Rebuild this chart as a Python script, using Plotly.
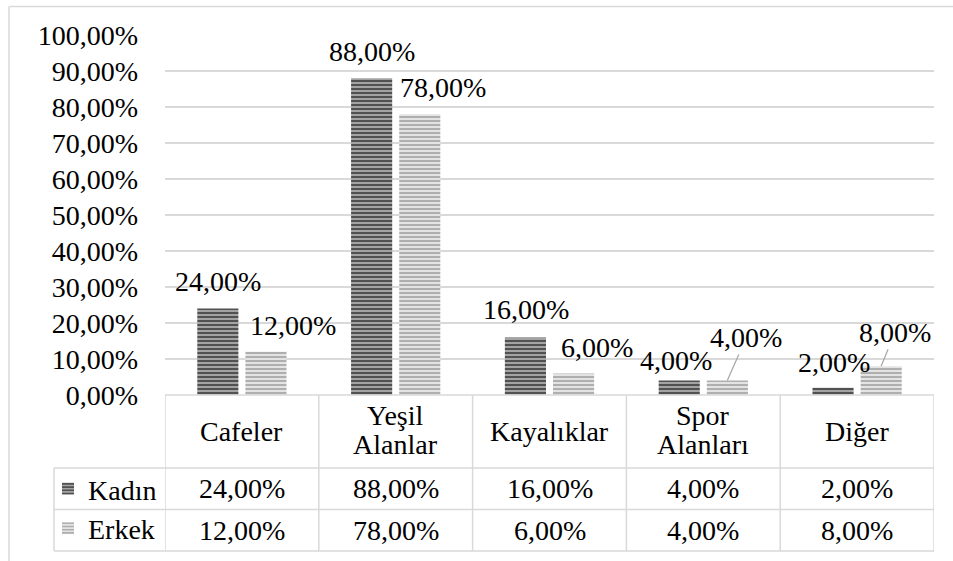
import plotly.graph_objects as go

# ---------------- data ----------------
categories = ["Cafeler", "Yeşil\nAlanlar", "Kayalıklar", "Spor\nAlanları", "Diğer"]
series_names = ["Kadın", "Erkek"]
kadin = [24, 88, 16, 4, 2]
erkek = [12, 78, 6, 4, 8]
y_ticks = [0, 10, 20, 30, 40, 50, 60, 70, 80, 90, 100]
y_tick_labels = ["0,00%", "10,00%", "20,00%", "30,00%", "40,00%", "50,00%",
                 "60,00%", "70,00%", "80,00%", "90,00%", "100,00%"]


def fmt(v):
    return f"{v:.2f}".replace(".", ",") + "%"


# ---------------- layout constants ----------------
W, H = 953, 561
L, R, T, B = 165, 19, 35, 166
PW, PH = W - L - R, H - T - B
FONT = "Liberation Serif, Times New Roman, serif"
FS = 28
GRID = "#d9d9d9"


def px_x(px):
    return (px - L) / PW


def px_y(py):
    return (H - B - py) / PH


x_idx = list(range(len(categories)))

fig = go.Figure()
fig.add_trace(go.Bar(
    x=x_idx, y=kadin, name=series_names[0], legendgroup="k",
    marker=dict(color="#9a9a9a", line=dict(width=0),
                pattern=dict(shape="-", fgcolor="#474747", bgcolor="#a3a3a3",
                             size=4, solidity=0.45, fillmode="replace")),
    hoverinfo="skip",
))
fig.add_trace(go.Bar(
    x=x_idx, y=erkek, name=series_names[1], legendgroup="e",
    marker=dict(color="#cfcfcf", line=dict(width=0),
                pattern=dict(shape="-", fgcolor="#a9a9a9", bgcolor="#e3e3e3",
                             size=4, solidity=0.45, fillmode="replace")),
    hoverinfo="skip",
))

shapes = []


def hline(y, x0, x1, color=GRID, w=1.5):
    shapes.append(dict(type="line", xref="paper", yref="paper",
                       x0=px_x(x0), x1=px_x(x1), y0=px_y(y), y1=px_y(y),
                       line=dict(color=color, width=w)))


def vline_px(x, y0, y1, color=GRID, w=1.5):
    shapes.append(dict(type="line", xref="paper", yref="paper",
                       x0=px_x(x), x1=px_x(x), y0=px_y(y0), y1=px_y(y1),
                       line=dict(color=color, width=w)))


# outer chart border (left and top visible)
hline(6.5, 9, W + 5, color="#d9d9d9", w=1.5)
vline_px(9, 6.5, H + 5, color="#d9d9d9", w=1.5)

# data table
table_top, head_bot, row1_bot, row2_bot = 395, 468, 509.5, 551
leg_left = 54
plot_right = W - R
hline(table_top, L, plot_right)
hline(head_bot, leg_left, plot_right)
hline(row1_bot, leg_left, plot_right)
hline(row2_bot, leg_left, plot_right)
vline_px(leg_left, head_bot, row2_bot)
for i in range(len(categories) + 1):
    shapes.append(dict(type="line", xref="x", yref="paper",
                       x0=i - 0.5, x1=i - 0.5, y0=px_y(table_top), y1=px_y(row2_bot),
                       line=dict(color=GRID, width=1.5)))

annotations = []
tfont = dict(family=FONT, size=FS, color="#000000")

# header labels
head_c = (table_top + head_bot) / 2
for i, cat in enumerate(categories):
    lines = cat.split("\n")
    n = len(lines)
    for j, ln in enumerate(lines):
        annotations.append(dict(x=i, y=px_y(head_c), xref="x", yref="paper",
                                text=ln, showarrow=False, font=tfont,
                                xanchor="center", yanchor="middle",
                                yshift=-(j - (n - 1) / 2) * 29 + (2 if n > 1 else 0)))

# value rows
for vals, (ya, yb) in ((kadin, (head_bot, row1_bot)), (erkek, (row1_bot, row2_bot))):
    yc = (ya + yb) / 2
    for i, v in enumerate(vals):
        annotations.append(dict(x=i, y=px_y(yc), xref="x", yref="paper",
                                text=fmt(v), showarrow=False, font=tfont,
                                xanchor="center", yanchor="middle"))

# data labels (manually offset, Excel style)
BAR_OFF = 24
k_off = [(0, 27), (0, 27), (0, 28), (-3, 20), (1, 25)]
e_off = [(27, 26), (23, 27), (23, 26), None, None]
for i, v in enumerate(kadin):
    dx, dy = k_off[i]
    annotations.append(dict(x=i, y=v, xref="x", yref="y", text=fmt(v),
                            showarrow=False, font=tfont, xanchor="center",
                            yanchor="middle", xshift=-BAR_OFF + dx, yshift=dy))
lead = {3: (19, -43), 4: (14, -34)}
for i, v in enumerate(erkek):
    if e_off[i] is not None:
        dx, dy = e_off[i]
        annotations.append(dict(x=i, y=v, xref="x", yref="y", text=fmt(v),
                                showarrow=False, font=tfont, xanchor="center",
                                yanchor="middle", xshift=BAR_OFF + dx, yshift=dy))
    else:
        ax, ay = lead[i]
        annotations.append(dict(x=i, y=v, xref="x", yref="y", text=fmt(v),
                                showarrow=True, arrowhead=0, arrowwidth=1.2,
                                arrowcolor="#a6a6a6", ax=ax, ay=ay,
                                standoff=0, font=tfont, xshift=BAR_OFF))

fig.update_layout(
    width=W, height=H,
    margin=dict(l=L, r=R, t=T, b=B, pad=0, autoexpand=False),
    paper_bgcolor="white", plot_bgcolor="white",
    barmode="group", bargap=0.374, bargroupgap=0.146,
    font=dict(family=FONT, size=FS, color="#000000"),
    xaxis=dict(range=[-0.5, len(categories) - 0.5], showticklabels=False,
               showgrid=False, zeroline=False, showline=False, ticks=""),
    yaxis=dict(range=[0, 100], tickvals=y_ticks, ticktext=y_tick_labels,
               showgrid=True, gridcolor=GRID, gridwidth=1.5, zeroline=False,
               showline=False, ticks="", ticklabelstandoff=26,
               tickfont=dict(family=FONT, size=FS, color="#000000")),
    showlegend=True,
    legend=dict(xref="container", yref="container",
                x=(leg_left - 6) / W, y=(H - head_bot + 4) / H,
                xanchor="left", yanchor="top",
                bgcolor="rgba(0,0,0,0)", borderwidth=0, tracegroupgap=7,
                traceorder="normal", font=dict(family=FONT, size=FS, color="#000000"),
                itemclick=False, itemdoubleclick=False),
    shapes=shapes, annotations=annotations,
)

fig.write_html(
    "out.html",
    config={"displayModeBar": False},
    post_script="document.body.style.margin='0';document.body.style.overflow='hidden';",
)
